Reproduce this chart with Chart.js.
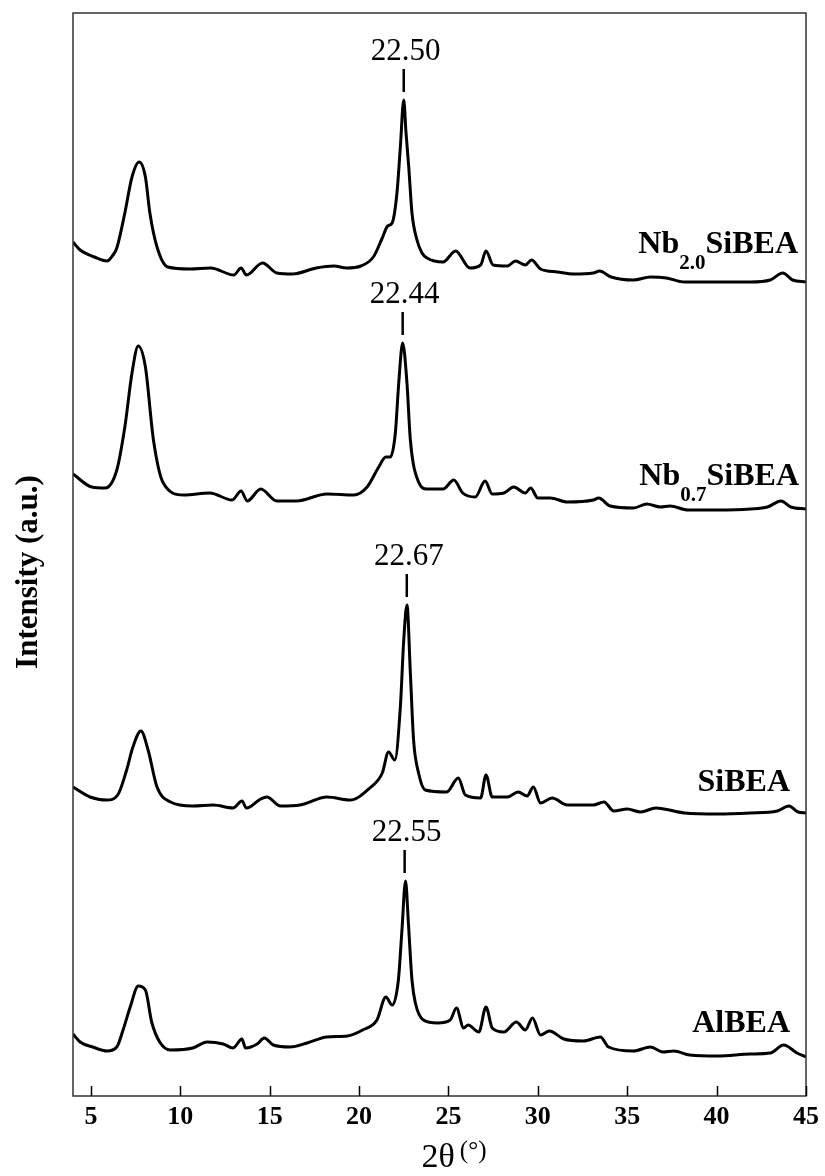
<!DOCTYPE html>
<html lang="en">
<head>
<meta charset="UTF-8">
<title>XRD patterns</title>
<script src="https://cdn.jsdelivr.net/npm/chart.js"></script>
<style>
  body { margin: 0; background: #fff; }
  canvas { display: block; }
</style>
</head>
<body>
<canvas id="xrd" width="825" height="1176"></canvas>
<script>
// 2theta positions (deg) and stacked intensities (a.u.)
const nb20X = [4.0,4.4,5.2,5.9,6.2,6.45,6.9,7.3,7.7,8.05,8.3,8.7,9.3,10.55,11.7,13.0,13.4,13.7,14.6,15.4,16.3,17.6,18.6,19.3,20.1,20.8,21.3,21.6,21.85,22.12,22.31,22.5,22.62,22.78,22.96,23.24,23.52,23.8,24.7,25.4,26.2,26.8,27.1,27.5,28.3,28.75,29.3,29.65,30.15,31.1,32.0,33.1,33.45,34.1,35.35,36.3,37.2,38.2,40.0,41.9,43.0,43.7,44.25,45];
const nb20Y = [854,846,839,835,840,848,883,919,934,919,883,849,829,827,828,821,828,821,833,823,822,828,830,828,830,839,858,870,873,903,949,996,965,929,883,856,843,838,834,845,828,831,845,831,830,835,831,836,827,824,822,823,825,819,816,819,818,814,814,814,816,823,816,814];

const nb07X = [4.0,5.05,5.8,6.45,6.9,7.3,7.65,8.05,8.5,9.05,10.2,11.65,12.9,13.4,13.75,14.5,15.4,16.5,18.2,19.7,20.45,21.1,21.5,21.75,22.03,22.22,22.44,22.68,22.87,23.33,23.8,24.7,25.3,25.8,26.5,27.05,27.45,28.1,28.65,29.3,29.6,30.0,30.7,31.65,33.1,33.4,34.05,35.35,36.1,36.85,37.4,38.4,40.05,41.9,42.85,43.6,44.15,45];
const nb07Y = [622,609,608,626,669,723,750,729,656,613,601,603,596,605,595,607,595,595,602,601,609,629,639,639,663,713,753,713,656,614,607,607,616,603,599,615,602,603,609,603,608,598,598,594,596,598,590,588,592,589,590,586,586,587,589,595,589,587];

const siX = [4.0,4.95,5.9,6.5,7.0,7.35,7.8,8.2,8.7,9.45,10.7,11.85,12.95,13.45,13.7,14.5,14.85,15.6,16.7,18.2,19.5,20.6,21.3,21.65,22.0,22.31,22.5,22.68,22.87,23.05,23.33,23.7,24.9,25.55,25.95,26.8,27.1,27.45,28.3,28.9,29.4,29.75,30.15,30.8,31.65,33.1,33.7,34.25,35.0,35.75,36.6,38.2,40.05,41.9,43.4,44.05,44.55,45];
const siY = [309,299,296,301,326,349,365,346,309,294,290,291,288,295,288,297,299,290,291,299,296,308,323,344,336,389,456,491,423,356,323,306,304,318,301,298,321,299,299,304,300,309,293,298,291,291,294,285,287,284,288,283,282,283,285,290,284,283];

const alX = [4.0,4.4,5.1,5.9,6.45,6.8,7.2,7.65,8.05,8.4,8.85,9.45,10.7,11.5,12.4,12.95,13.45,13.65,14.3,14.7,15.2,16.15,17.1,18.2,19.35,20.2,21.0,21.5,21.85,22.2,22.4,22.6,22.76,22.96,23.15,23.6,24.4,25.1,25.45,25.85,26.1,26.7,27.1,27.45,28.1,28.8,29.3,29.7,30.15,30.65,31.45,32.55,33.5,33.95,35.35,36.3,37.0,37.6,38.5,40.05,41.9,43.0,43.75,44.5,45];
const alY = [62,54,49,45,49,66,89,110,106,74,54,46,48,54,52,48,57,48,52,58,51,49,53,59,60,66,76,99,91,116,166,215,173,116,93,76,73,76,88,68,71,64,89,68,64,74,66,78,61,65,57,55,59,49,45,49,44,45,41,40,42,43,51,43,39];

const sampleNames = [['Nb', '2.0', 'SiBEA'], ['Nb', '0.7', 'SiBEA'], ['', '', 'SiBEA'], ['', '', 'AlBEA']];
const peakLabels = ['22.50', '22.44', '22.67', '22.55'];
const peakPositions = [22.50, 22.44, 22.67, 22.55];
const xTicks = [5, 10, 15, 20, 25, 30, 35, 40, 45];

const seriesX = [nb20X, nb07X, siX, alX];
const seriesY = [nb20Y, nb07Y, siY, alY];

const SERIF = '"Liberation Serif", "Times New Roman", serif';

function toPoints(xs, ys) {
  return xs.map((x, i) => ({ x: x, y: ys[i] }));
}

// frame, inward ticks, peak markers, sample names, axis titles
const decorations = {
  id: 'decorations',
  afterDraw(chart) {
    const { ctx, chartArea: a, scales: { x, y } } = chart;
    ctx.save();
    ctx.strokeStyle = '#333';
    ctx.lineWidth = 1.5;
    ctx.strokeRect(a.left, a.top, a.right - a.left, a.bottom - a.top);

    ctx.strokeStyle = '#000';
    ctx.beginPath();
    xTicks.forEach(v => {
      const px = Math.round(x.getPixelForValue(v)) + 0.5;
      ctx.moveTo(px, a.bottom);
      ctx.lineTo(px, a.bottom - 10);
    });
    ctx.stroke();

    // peak position markers
    ctx.fillStyle = '#000';
    ctx.textAlign = 'center';
    ctx.textBaseline = 'alphabetic';
    ctx.font = '31px ' + SERIF;
    peakPositions.forEach((p, i) => {
      const top = y.getPixelForValue(Math.max(...seriesY[i]));
      const px = x.getPixelForValue(p);
      ctx.lineWidth = 2.5;
      ctx.beginPath();
      ctx.moveTo(px, top - 8);
      ctx.lineTo(px, top - 31);
      ctx.stroke();
      ctx.fillText(peakLabels[i], px + 2, top - 40);
    });

    // sample names, right aligned above the trace end
    const rightInset = [8, 7, 16, 16];
    const lift = [29, 24, 22, 25];
    sampleNames.forEach((n, i) => {
      const ys = seriesY[i];
      const base = y.getPixelForValue(ys[ys.length - 1]) - lift[i];
      let right = a.right - rightInset[i];
      ctx.textAlign = 'right';
      ctx.font = 'bold 32px ' + SERIF;
      ctx.fillText(n[2], right, base);
      right -= ctx.measureText(n[2]).width;
      if (n[1]) {
        ctx.font = 'bold 21px ' + SERIF;
        ctx.fillText(n[1], right, base + 16);
        right -= ctx.measureText(n[1]).width;
        ctx.font = 'bold 32px ' + SERIF;
        ctx.fillText(n[0], right, base);
      }
    });

    // x title: 2θ (°)
    ctx.textAlign = 'left';
    ctx.font = '34px ' + SERIF;
    const w1 = ctx.measureText('2θ').width;
    ctx.font = '25px ' + SERIF;
    const w2 = ctx.measureText('(°)').width;
    const startX = 454 - (w1 + 5 + w2) / 2;
    ctx.font = '34px ' + SERIF;
    ctx.fillText('2θ', startX, 1167);
    ctx.font = '25px ' + SERIF;
    ctx.fillText('(°)', startX + w1 + 5, 1158);

    // y title
    ctx.translate(37, 572);
    ctx.rotate(-Math.PI / 2);
    ctx.textAlign = 'center';
    ctx.font = 'bold 31px ' + SERIF;
    ctx.fillText('Intensity (a.u.)', 0, 0);
    ctx.restore();
  }
};

new Chart(document.getElementById('xrd'), {
  type: 'line',
  data: {
    datasets: seriesX.map((xs, i) => ({
      data: toPoints(xs, seriesY[i]),
      borderColor: '#000',
      borderWidth: 3,
      pointRadius: 0,
      fill: false,
      cubicInterpolationMode: 'monotone'
    }))
  },
  options: {
    responsive: false,
    animation: false,
    layout: { padding: { left: 73, top: 13, right: 19, bottom: 0 } },
    plugins: { legend: { display: false }, tooltip: { enabled: false } },
    scales: {
      x: {
        type: 'linear',
        min: 4,
        max: 45,
        afterBuildTicks: s => { s.ticks = xTicks.map(v => ({ value: v })); },
        afterFit: s => { s.height = 80; },
        grid: { display: false, drawTicks: false },
        border: { display: false },
        ticks: {
          color: '#000',
          padding: 6,
          maxRotation: 0,
          font: { family: SERIF, size: 26, weight: 'bold' }
        }
      },
      y: {
        display: false,
        min: 0,
        max: 1083
      }
    }
  },
  plugins: [decorations]
});
</script>
</body>
</html>
